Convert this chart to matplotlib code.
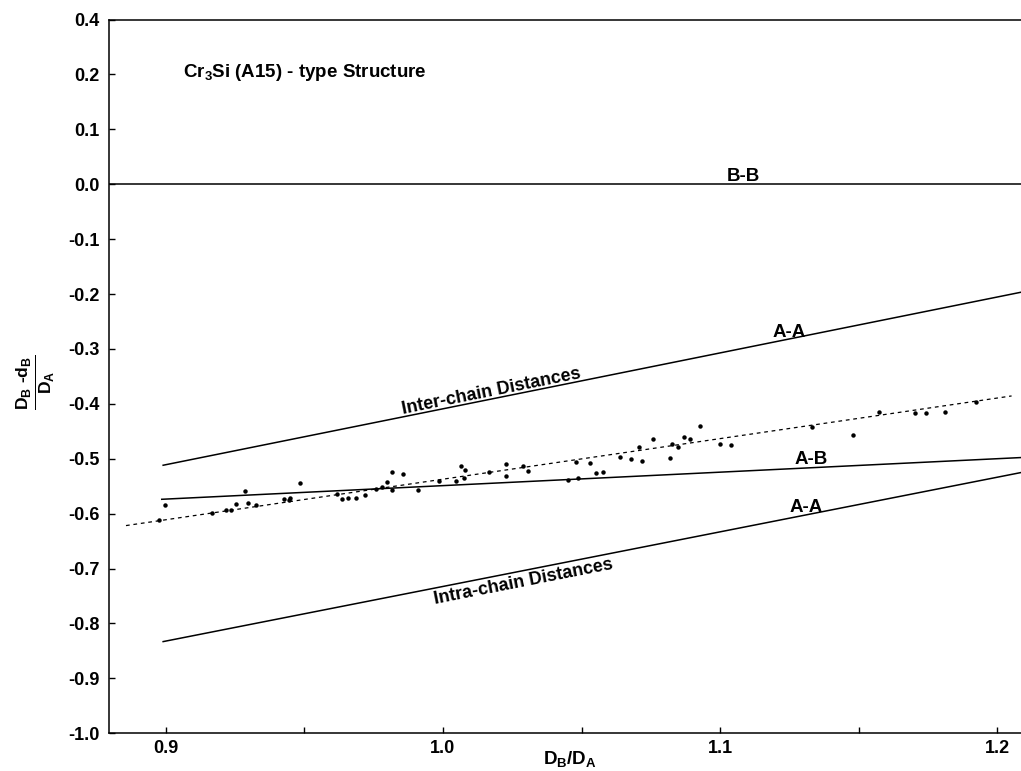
import math
import matplotlib
matplotlib.use('Agg')
import matplotlib.pyplot as plt
from matplotlib.ticker import FixedLocator, FixedFormatter

plt.rcParams['font.family'] = ['Liberation Sans', 'DejaVu Sans']
plt.rcParams['font.weight'] = 'bold'
plt.rcParams['mathtext.fontset'] = 'custom'
plt.rcParams['mathtext.rm'] = 'Liberation Sans:bold'
plt.rcParams['mathtext.it'] = 'Liberation Sans:bold'
plt.rcParams['mathtext.bf'] = 'Liberation Sans:bold'

# measured compounds: D_B/D_A vs (D_B - d_B)/D_A
ratio = [0.8997, 0.8977, 0.9166, 0.9217, 0.9234, 0.9255, 0.9286, 0.9296, 0.9325,
         0.9427, 0.9444, 0.9448, 0.9485, 0.9617, 0.9636, 0.9657, 0.9686, 0.9718,
         0.9758, 0.9779, 0.9797, 0.9817, 0.9815, 0.9857, 0.9909, 0.9987, 1.0048,
         1.0066, 1.0078, 1.0076, 1.0165, 1.0227, 1.0227, 1.0290, 1.0307, 1.0450,
         1.0481, 1.0489, 1.0529, 1.0551, 1.0578, 1.0638, 1.0677, 1.0708, 1.0718,
         1.0758, 1.0819, 1.0828, 1.0847, 1.0868, 1.0891, 1.0928, 1.1000, 1.1039,
         1.1331, 1.1479, 1.1573, 1.1702, 1.1741, 1.1810, 1.1921]
deviation = [-0.5834, -0.6120, -0.5993, -0.5938, -0.5925, -0.5829, -0.5587, -0.5805, -0.5842,
             -0.5732, -0.5743, -0.5719, -0.5441, -0.5641, -0.5738, -0.5719, -0.5714, -0.5652,
             -0.5556, -0.5514, -0.5428, -0.5233, -0.5561, -0.5270, -0.5561, -0.5397, -0.5410,
             -0.5124, -0.5209, -0.5342, -0.5233, -0.5095, -0.5313, -0.5131, -0.5215, -0.5386,
             -0.5051, -0.5342, -0.5077, -0.5264, -0.5246, -0.4967, -0.4996, -0.4785, -0.5033,
             -0.4639, -0.4985, -0.4723, -0.4785, -0.4608, -0.4645, -0.4404, -0.4736, -0.4754,
             -0.4426, -0.4563, -0.4148, -0.4159, -0.4171, -0.4144, -0.3967]

# reference lines (end points)
fit_x = [0.8857, 1.2051]
fit_y = [-0.6217, -0.3856]
inter_x = [0.8991, 1.2085]
inter_y = [-0.5118, -0.1967]
ab_x = [0.8986, 1.2085]
ab_y = [-0.5738, -0.4978]
intra_x = [0.8991, 1.2085]
intra_y = [-0.8330, -0.5251]

xticks = [0.9, 1.0, 1.1, 1.2]
xtick_labels = ['0.9', '1.0', '1.1', '1.2']
xminor = [0.95, 1.05, 1.15]
yticks = [0.3, 0.2, 0.1, 0.0, -0.1, -0.2, -0.3, -0.4, -0.5, -0.6, -0.7, -0.8, -0.9, -1.0]
ytick_labels = ['0.4', '0.2', '0.1', '0.0', '-0.1', '-0.2', '-0.3', '-0.4', '-0.5',
                '-0.6', '-0.7', '-0.8', '-0.9', '-1.0']

fig = plt.figure(figsize=(10.21, 7.71), dpi=100)
ax = fig.add_axes([0.1071, 0.0489, 0.8929, 0.9258])
ax.set_xlim(0.8797, 1.2085)
ax.set_ylim(-1.0, 0.3)

lw = 1.1
ax.axhline(0.0, color='black', lw=lw)
ax.plot(inter_x, inter_y, color='black', lw=lw)
ax.plot(ab_x, ab_y, color='black', lw=lw)
ax.plot(intra_x, intra_y, color='black', lw=lw)
ax.plot(fit_x, fit_y, color='black', lw=0.9, linestyle=(0, (3, 3)))
ax.plot(ratio, deviation, 'o', color='black', ms=3.2, mew=0)

ax.spines['right'].set_visible(False)
for s in ['left', 'bottom', 'top']:
    ax.spines[s].set_linewidth(1.1)

ax.xaxis.set_major_locator(FixedLocator(xticks))
ax.xaxis.set_major_formatter(FixedFormatter(xtick_labels))
ax.xaxis.set_minor_locator(FixedLocator(xminor))
ax.yaxis.set_major_locator(FixedLocator(yticks))
ax.yaxis.set_major_formatter(FixedFormatter(ytick_labels))
ax.tick_params(axis='both', which='both', direction='in', length=4, width=1, labelsize=13)
ax.tick_params(axis='x', which='major', pad=5)
ax.tick_params(axis='y', which='major', pad=7)
ax.tick_params(top=False, right=False)

def angle_of(xs, ys):
    p1 = ax.transData.transform((xs[0], ys[0]))
    p2 = ax.transData.transform((xs[1], ys[1]))
    return math.degrees(math.atan2(p2[1] - p1[1], p2[0] - p1[0]))

ax.text(1.0175, -0.3770, 'Inter-chain Distances', fontsize=13, fontweight='bold',
        rotation=angle_of(inter_x, inter_y), rotation_mode='anchor', ha='center', va='center')
ax.text(1.0290, -0.7250, 'Intra-chain Distances', fontsize=13, fontweight='bold',
        rotation=angle_of(intra_x, intra_y), rotation_mode='anchor', ha='center', va='center')
ax.text(1.1084, 0.0146, 'B-B', fontsize=13.5, fontweight='bold', ha='center', va='center')
ax.text(1.1250, -0.2696, 'A-A', fontsize=13.5, fontweight='bold', ha='center', va='center')
ax.text(1.1327, -0.5009, 'A-B', fontsize=13.5, fontweight='bold', ha='center', va='center')
ax.text(1.1309, -0.5893, 'A-A', fontsize=13.5, fontweight='bold', ha='center', va='center')

ax.text(0.9061, 0.1954, r'Cr$_3$Si (A15) - type Structure', fontsize=13.5, fontweight='bold',
        ha='left', va='baseline')

ax.set_ylabel(r'$\frac{D_B\ \text{-}d_B}{D_A}$', fontsize=18, rotation=90)
ax.yaxis.label.set_va('center')
ax.yaxis.set_label_coords(-0.081, 0.491)
ax.set_xlabel(r'$D_B/D_A$', fontsize=13.5)
ax.xaxis.label.set_va('center')
ax.xaxis.set_label_coords(0.505, -0.036)

fig.savefig('out.png', dpi=100)
